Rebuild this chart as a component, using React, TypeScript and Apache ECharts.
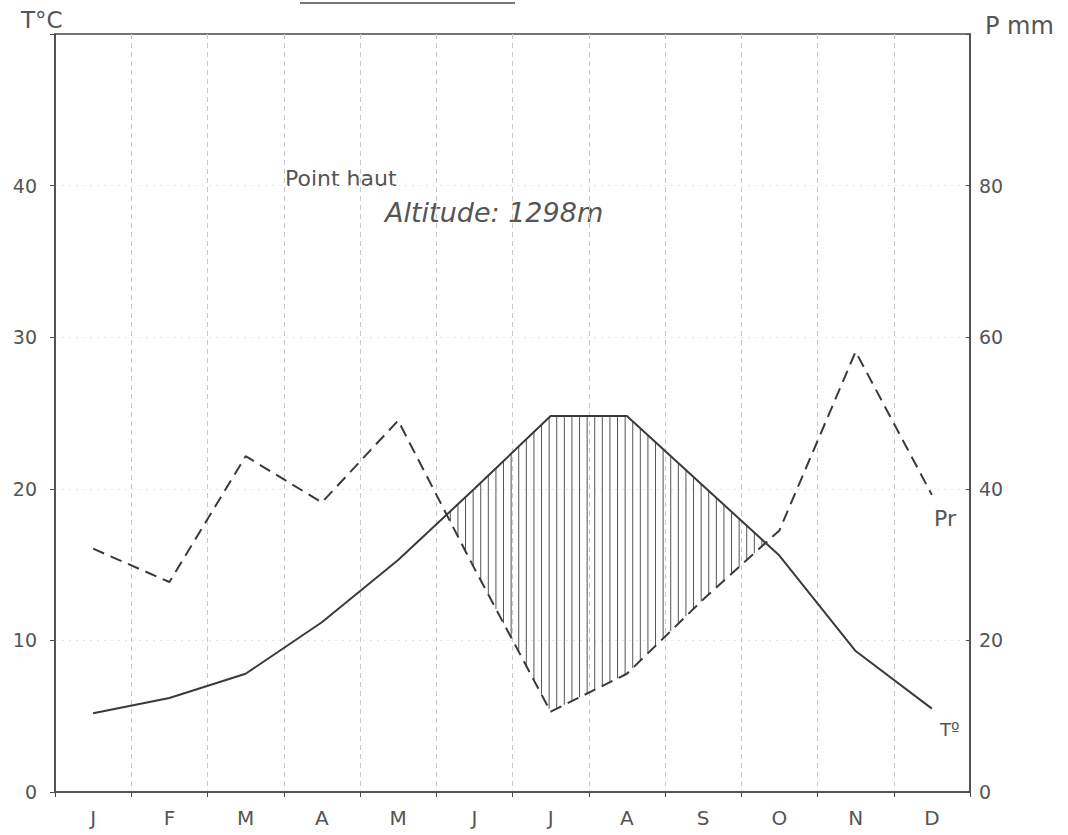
import React, { useEffect, useRef } from "react";
import * as echarts from "echarts";

const months = ["J", "F", "M", "A", "M", "J", "J", "A", "S", "O", "N", "D"];
const temperature = [5.2, 6.2, 7.8, 11.2, 15.3, 20.0, 24.8, 24.8, 20.2, 15.6, 9.3, 5.5];
const precipitation = [32.1, 27.7, 44.3, 38.2, 49.0, 29.5, 10.6, 15.6, 25.4, 34.5, 58.1, 39.2];
const tempAxis = { min: 0, max: 50, interval: 10 };
const precipAxis = { min: 0, max: 100, interval: 20 };

const INK = "#4a4a4a";
const FONT = "DejaVu Sans";

export default function App() {
  const ref = useRef<HTMLDivElement>(null);

  useEffect(() => {
    if (!ref.current) return;
    const chart = echarts.init(ref.current, null, { renderer: "svg" });
    const ratio = precipAxis.max / tempAxis.max;

    const renderHatch = (params: any, api: any) => {
      const tPts = temperature.map((t, i) => api.coord([i, t]));
      const pPts = precipitation.map((p, i) => api.coord([i, p / ratio]));
      const step = 7.6;
      const children: any[] = [];
      const x0 = tPts[0][0];
      const x1 = tPts[tPts.length - 1][0];
      for (let x = x0; x <= x1; x += step) {
        let seg = 0;
        while (seg < tPts.length - 2 && x > tPts[seg + 1][0]) seg++;
        const a = tPts[seg], b = tPts[seg + 1];
        const f = (x - a[0]) / (b[0] - a[0]);
        const yT = a[1] + (b[1] - a[1]) * f;
        const pa = pPts[seg], pb = pPts[seg + 1];
        const yP = pa[1] + (pb[1] - pa[1]) * f;
        if (yP - yT > 1.5) {
          children.push({
            type: "line",
            shape: { x1: x, y1: yT, x2: x, y2: yP },
            style: { stroke: "#555", lineWidth: 1 },
          });
        }
      }
      return { type: "group", children };
    };

    chart.setOption({
      animation: false,
      backgroundColor: "#ffffff",
      grid: {
        left: 55,
        right: 98,
        top: 34,
        bottom: 43,
        show: true,
        borderColor: INK,
        borderWidth: 1.5,
        backgroundColor: "transparent",
      },
      xAxis: {
        type: "category",
        data: months,
        boundaryGap: true,
        axisLine: { show: true, lineStyle: { color: INK, width: 1.5 } },
        axisTick: { show: true, inside: false, length: 5, lineStyle: { color: INK } },
        axisLabel: { color: "#555", fontSize: 20, fontFamily: FONT, margin: 16 },
        splitLine: {
          show: true,
          showMinLine: false,
          showMaxLine: false,
          lineStyle: { color: "#c8c8c8", type: [5, 4], width: 1 },
        },
      },
      yAxis: [
        {
          type: "value",
          min: tempAxis.min,
          max: tempAxis.max,
          interval: tempAxis.interval,
          position: "left",
          axisLine: { show: true, lineStyle: { color: INK, width: 1.5 } },
          axisTick: { show: true, length: 5, lineStyle: { color: INK } },
          axisLabel: {
            color: "#555",
            fontSize: 19,
            fontFamily: FONT,
            margin: 18,
            formatter: (v: number) => (v >= tempAxis.max ? "" : String(v)),
          },
          splitLine: {
            show: true,
            showMinLine: false,
            showMaxLine: false,
            lineStyle: { color: "#e4e4e4", type: [2, 5], width: 1 },
          },
        },
        {
          type: "value",
          min: precipAxis.min,
          max: precipAxis.max,
          interval: precipAxis.interval,
          position: "right",
          axisLine: { show: true, lineStyle: { color: INK, width: 1.5 } },
          axisTick: { show: true, inside: true, length: 4, lineStyle: { color: INK } },
          axisLabel: {
            color: "#555",
            fontSize: 19,
            fontFamily: FONT,
            margin: 9,
            formatter: (v: number) => (v >= precipAxis.max ? "" : String(v)),
          },
          splitLine: { show: false },
        },
      ],
      series: [
        {
          name: "Hatch",
          type: "custom",
          xAxisIndex: 0,
          yAxisIndex: 0,
          data: [[0, 0]],
          silent: true,
          z: 1,
          renderItem: renderHatch,
        },
        {
          name: "T°",
          type: "line",
          yAxisIndex: 0,
          data: temperature,
          symbol: "none",
          z: 3,
          lineStyle: { color: "#3a3a3a", width: 2 },
        },
        {
          name: "Pr",
          type: "line",
          yAxisIndex: 1,
          data: precipitation,
          symbol: "none",
          z: 3,
          lineStyle: { color: "#3a3a3a", width: 2, type: [12, 7] },
        },
      ],
      graphic: [
        {
          type: "line",
          shape: { x1: 300, y1: 3, x2: 515, y2: 3 },
          style: { stroke: INK, lineWidth: 1.5 },
        },
        {
          type: "text",
          left: 21,
          top: 8,
          style: { text: "T°C", fill: "#555", fontSize: 23, fontFamily: FONT },
        },
        {
          type: "text",
          left: 985,
          top: 14,
          style: { text: "P mm", fill: "#555", fontSize: 24, fontFamily: FONT },
        },
        {
          type: "text",
          left: 285,
          top: 167,
          style: { text: "Point haut", fill: "#555", fontSize: 22, fontFamily: FONT },
        },
        {
          type: "text",
          left: 385,
          top: 199,
          style: {
            text: "Altitude: 1298m",
            fill: "#555",
            fontSize: 27,
            fontStyle: "italic",
            fontFamily: FONT,
          },
        },
        {
          type: "text",
          left: 934,
          top: 507,
          style: { text: "Pr", fill: "#555", fontSize: 22, fontFamily: FONT },
        },
        {
          type: "text",
          left: 940,
          top: 720,
          style: { text: "Tº", fill: "#555", fontSize: 18, fontFamily: FONT },
        },
      ],
    });

    return () => chart.dispose();
  }, []);

  return (
    <div
      ref={ref}
      style={{ position: "absolute", left: 0, top: 0, width: 1068, height: 835, background: "#fff" }}
    />
  );
}
